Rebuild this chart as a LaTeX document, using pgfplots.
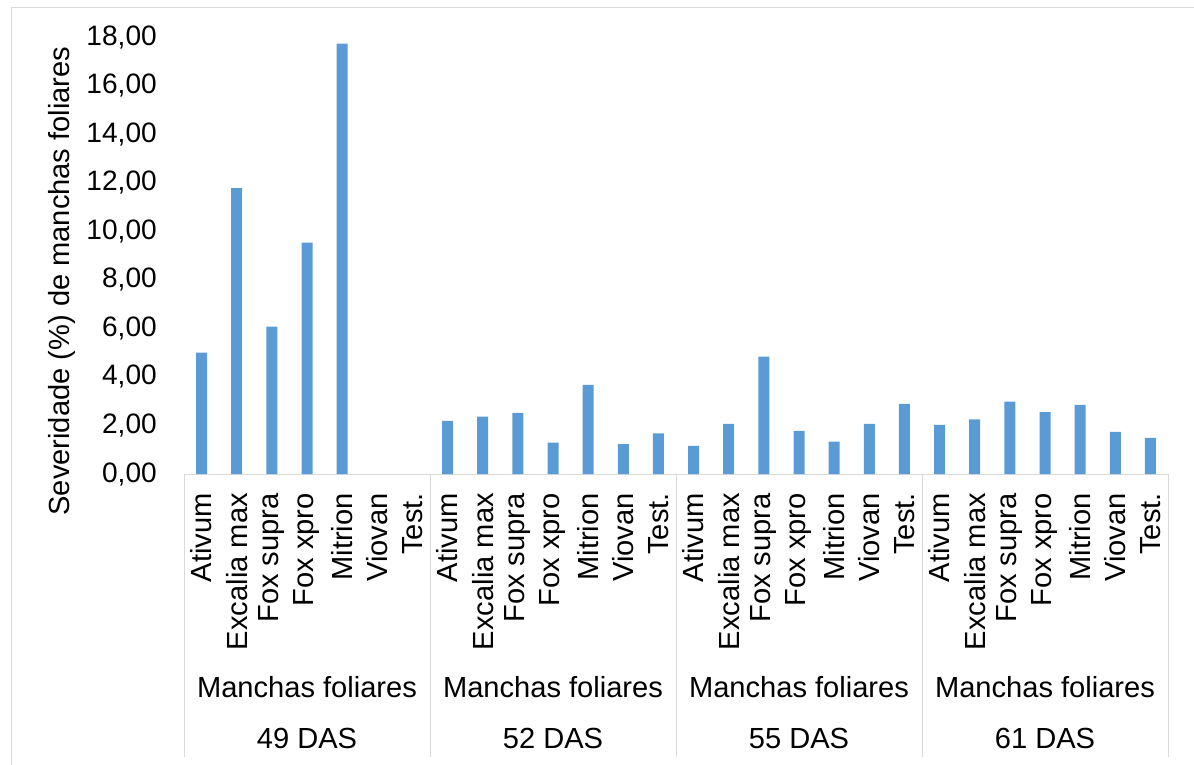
\documentclass[border=0pt]{standalone}
\usepackage{fontspec}
\setmainfont{Liberation Sans}
\usepackage{pgfplots}
\pgfplotsset{compat=1.18}
\definecolor{barblue}{HTML}{5B9BD5}
\definecolor{sepgray}{HTML}{D9D9D9}
\begin{document}
\begin{tikzpicture}[font=\fontsize{29.2}{34}\selectfont]
\path[use as bounding box] (0,0) rectangle (1194bp,-765bp);
\draw[sepgray, line width=1bp] (11bp,-800bp) -- (11bp,-7.5bp) -- (1210bp,-7.5bp);
\begin{axis}[
  at={(184bp,-474bp)}, anchor=south west,
  scale only axis, width=984bp, height=437bp,
  xmin=-0.5, xmax=27.5, ymin=0, ymax=18,
  axis x line=bottom, axis y line=left, axis line style={-},
  y axis line style={draw=none},
  x axis line style={draw=sepgray, line width=1bp},
  major tick length=0pt,
  ytick={0,2,...,18},
  /pgf/number format/fixed, /pgf/number format/fixed zerofill,
  /pgf/number format/precision=2, /pgf/number format/use comma,
  /pgf/number format/assume math mode=true,
  yticklabel style={anchor=east, inner sep=0pt, font=\fontsize{28.2}{33}\selectfont},
  yticklabel shift=27bp,
  xtick={0,...,27},
  xticklabels={Ativum,Excalia max,Fox supra,Fox xpro,Mitrion,Viovan,Test.,
               Ativum,Excalia max,Fox supra,Fox xpro,Mitrion,Viovan,Test.,
               Ativum,Excalia max,Fox supra,Fox xpro,Mitrion,Viovan,Test.,
               Ativum,Excalia max,Fox supra,Fox xpro,Mitrion,Viovan,Test.},
  xticklabel style={rotate=90, anchor=east, inner sep=0pt},
  xticklabel shift=19bp,
  clip=false,
  ybar, bar width=11bp,
]
\addplot[fill=barblue, draw=none] coordinates {
 (0,5.00) (1,11.78) (2,6.07) (3,9.53) (4,17.73)
 (7,2.19) (8,2.36) (9,2.52) (10,1.29) (11,3.67) (12,1.23) (13,1.67)
 (14,1.16) (15,2.06) (16,4.83) (17,1.78) (18,1.33) (19,2.06) (20,2.89)
 (21,2.02) (22,2.25) (23,2.98) (24,2.55) (25,2.85) (26,1.74) (27,1.49)
};
\draw[sepgray, line width=1bp] (axis cs:-0.5,0) -- ++(0pt,-283bp);
\draw[sepgray, line width=1bp] (axis cs:6.5,0) -- ++(0pt,-283bp);
\draw[sepgray, line width=1bp] (axis cs:13.5,0) -- ++(0pt,-283bp);
\draw[sepgray, line width=1bp] (axis cs:20.5,0) -- ++(0pt,-283bp);
\draw[sepgray, line width=1bp] (axis cs:27.5,0) -- ++(0pt,-283bp);
\node at (axis cs:3,0) [yshift=-213bp] {Manchas foliares};
\node at (axis cs:10,0) [yshift=-213bp] {Manchas foliares};
\node at (axis cs:17,0) [yshift=-213bp] {Manchas foliares};
\node at (axis cs:24,0) [yshift=-213bp] {Manchas foliares};
\node at (axis cs:3,0) [yshift=-264bp] {49 DAS};
\node at (axis cs:10,0) [yshift=-264bp] {52 DAS};
\node at (axis cs:17,0) [yshift=-264bp] {55 DAS};
\node at (axis cs:24,0) [yshift=-264bp] {61 DAS};
\end{axis}
\node[rotate=90] at (62bp,-281bp) {Severidade (\%) de manchas foliares};
\end{tikzpicture}
\end{document}
